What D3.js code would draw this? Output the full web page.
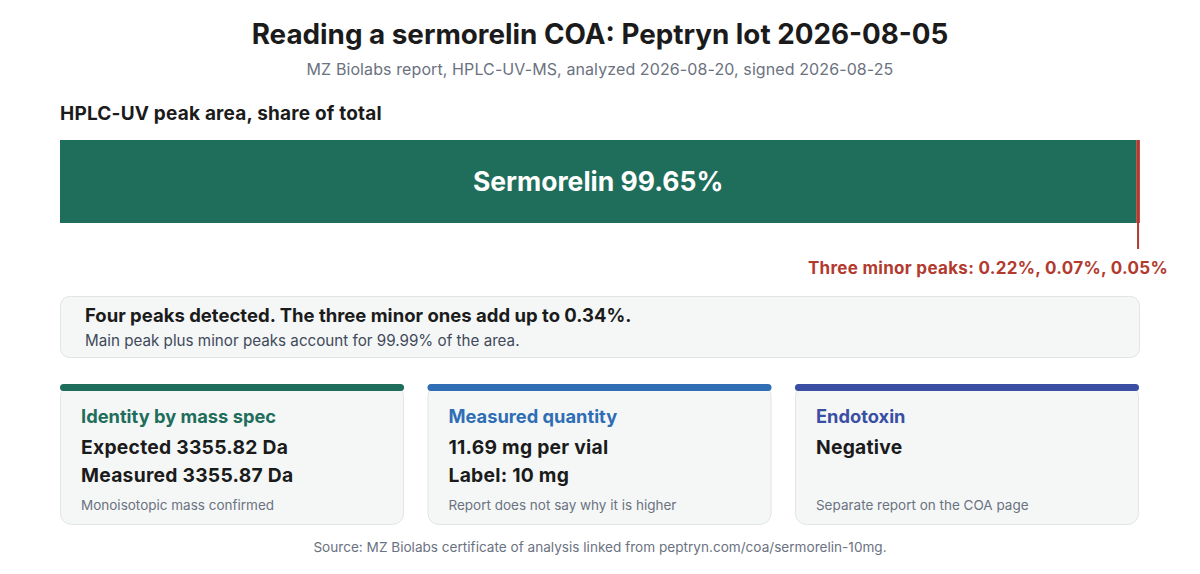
<!DOCTYPE html>
<html><head><meta charset="utf-8">
<script src="https://cdn.jsdelivr.net/npm/d3@7"></script>
<style>
html,body{margin:0;padding:0;background:#fff;}
svg{display:block;font-family:Inter,"Noto Sans",sans-serif;}
</style></head>
<body>
<svg id="c" width="1200" height="574"></svg>
<script>
const title = "Reading a sermorelin COA: Peptryn lot 2026-08-05";
const subtitle = "MZ Biolabs report, HPLC-UV-MS, analyzed 2026-08-20, signed 2026-08-25";
const sectionLabel = "HPLC-UV peak area, share of total";
const mainPeakName = "Sermorelin";
const mainPeak = 99.65;
const minorPeaks = [0.22, 0.07, 0.05];
const calloutHead = "Four peaks detected. The three minor ones add up to 0.34%.";
const calloutSub = "Main peak plus minor peaks account for 99.99% of the area.";
const cardTitles = ["Identity by mass spec", "Measured quantity", "Endotoxin"];
const cardLines = [["Expected 3355.82 Da", "Measured 3355.87 Da"], ["11.69 mg per vial", "Label: 10 mg"], ["Negative"]];
const cardNotes = ["Monoisotopic mass confirmed", "Report does not say why it is higher", "Separate report on the COA page"];
const cardColors = ["#1f6e5b", "#2f6eb5", "#3a4ea3"];
const source = "Source: MZ Biolabs certificate of analysis linked from peptryn.com/coa/sermorelin-10mg.";

const svg = d3.select("#c");
const dark = "#1b1b1b", gray = "#6b7280", red = "#b23a2f";

svg.append("text").attr("x",600).attr("y",44).attr("text-anchor","middle")
  .attr("font-size",27.8).attr("font-weight",700).attr("fill",dark).text(title);
svg.append("text").attr("x",600).attr("y",75).attr("text-anchor","middle")
  .attr("font-size",16).attr("letter-spacing",0.1).attr("fill",gray).text(subtitle);
svg.append("text").attr("x",60).attr("y",120)
  .attr("font-size",19).attr("letter-spacing",0.2).attr("font-weight",700).attr("fill",dark).text(sectionLabel);

const x = d3.scaleLinear().domain([0,100]).range([60,1140]);
const barTop = 140, barH = 83;
const minorSum = d3.sum(minorPeaks);
const segs = [{s:0,e:mainPeak,c:"#1f6e5b"},{s:mainPeak,e:mainPeak+minorSum,c:red}];
svg.selectAll("rect.seg").data(segs).enter().append("rect").attr("class","seg")
  .attr("x",d=>x(d.s)).attr("y",barTop).attr("width",d=>x(d.e)-x(d.s)).attr("height",barH)
  .attr("fill",d=>d.c);
svg.append("text").attr("x",(x(0)+x(mainPeak))/2).attr("y",barTop+barH/2+9.5).attr("text-anchor","middle")
  .attr("font-size",26.5).attr("font-weight",700).attr("fill","#fff")
  .text(`${mainPeakName} ${mainPeak.toFixed(2)}%`);
const mx = x(mainPeak + minorSum/2);
svg.append("line").attr("x1",mx).attr("x2",mx).attr("y1",barTop+barH).attr("y2",249)
  .attr("stroke",red).attr("stroke-width",2);
svg.append("text").attr("x",1168).attr("y",274).attr("text-anchor","end")
  .attr("font-size",17).attr("letter-spacing",0.3).attr("font-weight",700).attr("fill",red)
  .text("Three minor peaks: " + minorPeaks.map(v=>v.toFixed(2)+"%").join(", "));

// callout
svg.append("rect").attr("x",60.5).attr("y",296.5).attr("width",1079).attr("height",61).attr("rx",9)
  .attr("fill","#f5f7f7").attr("stroke","#e1e5e5");
svg.append("text").attr("x",85).attr("y",322).attr("font-size",18.5).attr("font-weight",700).attr("fill",dark).text(calloutHead);
svg.append("text").attr("x",85).attr("y",346).attr("font-size",15.2).attr("fill","#3f4a5a").text(calloutSub);

// cards
const cx = d3.scaleBand().domain(d3.range(3)).range([60,1139]).paddingInner(22/345);
const cards = svg.selectAll("g.card").data(cardTitles).enter().append("g").attr("class","card")
  .attr("transform",(d,i)=>`translate(${cx(i)},0)`);
const w = cx.bandwidth();
cards.append("rect").attr("x",0.5).attr("y",385.5).attr("width",w-1).attr("height",139).attr("rx",11)
  .attr("fill","#f5f7f7").attr("stroke","#e1e5e5");
cards.append("rect").attr("x",0).attr("y",384).attr("width",w).attr("height",7).attr("rx",3.5)
  .attr("fill",(d,i)=>cardColors[i]);
cards.append("text").attr("x",21).attr("y",423).attr("font-size",18.3).attr("font-weight",700)
  .attr("fill",(d,i)=>cardColors[i]).text(d=>d);
cards.each(function(d,i){
  const g = d3.select(this);
  cardLines[i].forEach((t,j)=>{
    g.append("text").attr("x",21).attr("y",453.5+j*28).attr("font-size",19.3).attr("letter-spacing",0.25)
      .attr("font-weight",700).attr("fill",dark).text(t);
  });
  g.append("text").attr("x",21).attr("y",510).attr("font-size",13.5).attr("fill",gray).text(cardNotes[i]);
});

svg.append("text").attr("x",600).attr("y",552).attr("text-anchor","middle")
  .attr("font-size",13.6).attr("fill",gray).text(source);
</script>
</body></html>
